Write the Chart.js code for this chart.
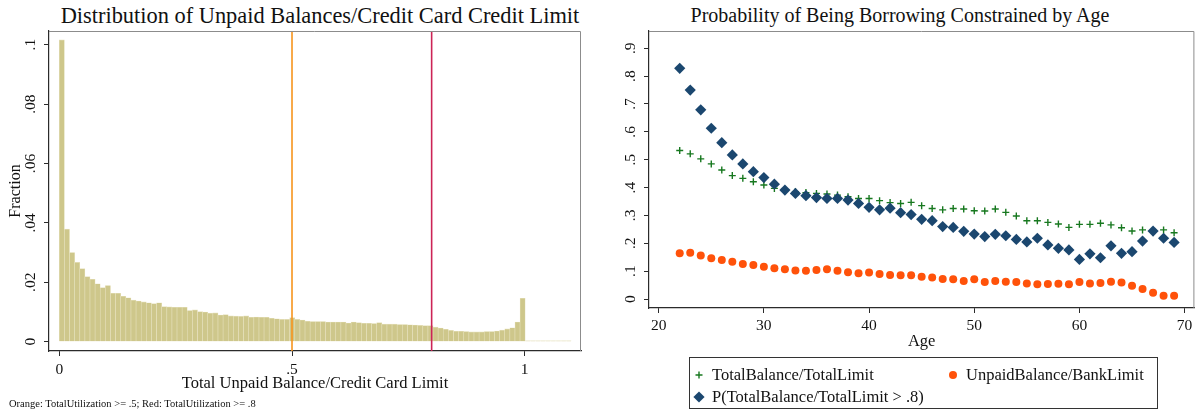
<!DOCTYPE html>
<html>
<head>
<meta charset="utf-8">
<script src="https://cdn.jsdelivr.net/npm/chart.js@4.4.1/dist/chart.umd.min.js"></script>
<style>
  body { margin: 0; background: #fff; width: 1200px; height: 415px; overflow: hidden; position: relative;
         font-family: "Liberation Serif", serif; color: #111; }
  canvas { position: absolute; top: 0; }
  #histCanvas { left: 0; }
  #ageCanvas { left: 600px; }
  .title { position: absolute; top: 4px; font-size: 20px; text-align: center; white-space: nowrap; }
  .note { position: absolute; left: 9px; top: 398px; font-size: 10.5px; white-space: nowrap; }
  #legend { position: absolute; left: 689px; top: 357px; width: 467px; height: 50px; border: 1px solid #333; font-size: 16.5px; }
  .item { position: absolute; display: flex; align-items: center; white-space: nowrap; height: 20px; }
  .item canvas { position: static; margin-right: 6px; }
</style>
</head>
<body>
<div class="title" style="left:0;width:640px;font-size:22.4px;top:3px">Distribution of Unpaid Balances/Credit Card Credit Limit</div>
<div class="title" style="left:600px;width:600px">Probability of Being Borrowing Constrained by Age</div>
<canvas id="histCanvas" width="600" height="415"></canvas>
<canvas id="ageCanvas" width="600" height="415"></canvas>
<div class="note">Orange: TotalUtilization &gt;= .5; Red: TotalUtilization &gt;= .8</div>
<div id="legend"></div>

<script>
// ---- data: histogram of utilization (100 bins of width .011 starting at 0)
var BIN_WIDTH = 0.011;
var fractions = [
  0.1016, 0.0379, 0.0300, 0.0267, 0.0246, 0.0219, 0.0210, 0.0195, 0.0182, 0.0189,
  0.0163, 0.0163, 0.0153, 0.0148, 0.0140, 0.0137, 0.0134, 0.0131, 0.0128, 0.0131,
  0.0118, 0.0117, 0.0116, 0.0116, 0.0116, 0.0105, 0.0107, 0.0101, 0.0100, 0.0096,
  0.0097, 0.0090, 0.0091, 0.0087, 0.0086, 0.0085, 0.0087, 0.0082, 0.0083, 0.0082,
  0.0082, 0.0079, 0.0077, 0.0075, 0.0075, 0.0081, 0.0075, 0.0073, 0.0069, 0.0068,
  0.0068, 0.0068, 0.0066, 0.0066, 0.0066, 0.0066, 0.0063, 0.0066, 0.0064, 0.0062,
  0.0062, 0.0061, 0.0064, 0.0059, 0.0059, 0.0059, 0.0058, 0.0058, 0.0057, 0.0056,
  0.0055, 0.0054, 0.0054, 0.0049, 0.0046, 0.0042, 0.0038, 0.0035, 0.0035, 0.0034,
  0.0033, 0.0033, 0.0033, 0.0034, 0.0034, 0.0036, 0.0039, 0.0043, 0.0047, 0.0066,
  0.0146, 0.0003, 0.0003, 0.0003, 0.0003, 0.0003, 0.0003, 0.0003, 0.0003, 0.0003
];
var cutoffs = [0.5, 0.8];
var histXTicks = [0, 0.5, 1];
var histYTicks = [0, 0.02, 0.04, 0.06, 0.08, 0.1];

// ---- data: by age
var ages = [22, 23, 24, 25, 26, 27, 28, 29, 30, 31, 32, 33, 34, 35, 36, 37, 38, 39, 40, 41, 42, 43, 44, 45,
            46, 47, 48, 49, 50, 51, 52, 53, 54, 55, 56, 57, 58, 59, 60, 61, 62, 63, 64, 65, 66, 67, 68, 69];
var totalUtil = [0.533, 0.521, 0.503, 0.485, 0.463, 0.443, 0.433, 0.421, 0.409, 0.397, 0.390, 0.385,
                 0.382, 0.379, 0.377, 0.373, 0.367, 0.361, 0.361, 0.353, 0.346, 0.343, 0.347, 0.335,
                 0.325, 0.320, 0.325, 0.323, 0.317, 0.316, 0.323, 0.311, 0.298, 0.281, 0.281, 0.275,
                 0.269, 0.257, 0.268, 0.268, 0.272, 0.266, 0.256, 0.244, 0.248, 0.242, 0.248, 0.238];
var bankUtil = [0.164, 0.166, 0.156, 0.146, 0.140, 0.134, 0.126, 0.122, 0.116, 0.110, 0.107, 0.102,
                0.101, 0.104, 0.107, 0.101, 0.096, 0.092, 0.095, 0.090, 0.086, 0.085, 0.085, 0.080,
                0.077, 0.072, 0.071, 0.065, 0.071, 0.061, 0.065, 0.062, 0.061, 0.056, 0.053, 0.054,
                0.055, 0.053, 0.061, 0.056, 0.057, 0.062, 0.059, 0.048, 0.036, 0.022, 0.012, 0.012];
var probConstrained = [0.828, 0.750, 0.679, 0.613, 0.561, 0.517, 0.485, 0.457, 0.436, 0.412, 0.391, 0.379,
                       0.371, 0.364, 0.361, 0.361, 0.355, 0.343, 0.329, 0.320, 0.326, 0.310, 0.303, 0.286,
                       0.281, 0.260, 0.257, 0.243, 0.233, 0.224, 0.232, 0.227, 0.214, 0.205, 0.218, 0.194,
                       0.182, 0.176, 0.142, 0.162, 0.148, 0.191, 0.164, 0.170, 0.208, 0.244, 0.218, 0.203];
var ageXTicks = [20, 30, 40, 50, 60, 70];
var ageYTicks = [0, 0.1, 0.2, 0.3, 0.4, 0.5, 0.6, 0.7, 0.8, 0.9];
var seriesLabels = ["TotalBalance/TotalLimit", "UnpaidBalance/BankLimit", "P(TotalBalance/TotalLimit > .8)"];

// ---- styling
var AXIS = "#2b2b2b";
var CUT_COLORS = ["#f7941d", "#cc2456"];
Chart.defaults.font.family = "'Liberation Serif', serif";
Chart.defaults.font.size = 15.5;
Chart.defaults.color = "#111";

function stataNum(v) {
  var s = String(+v.toFixed(3));
  return s.replace(/^0\./, ".");
}

// grey top/right edge of the plot region
var frameLines = {
  id: "frameLines",
  afterDraw: function (chart) {
    var a = chart.chartArea, ctx = chart.ctx;
    ctx.save();
    ctx.strokeStyle = "#8c8c8c";
    ctx.lineWidth = 1;
    ctx.beginPath();
    ctx.moveTo(a.left, a.top + 0.5);
    ctx.lineTo(a.right - 0.5, a.top + 0.5);
    ctx.lineTo(a.right - 0.5, a.bottom);
    ctx.stroke();
    ctx.restore();
  }
};

function axis(opts) {
  return Object.assign({
    type: "linear",
    offset: false,
    grid: { display: true, offset: false, drawOnChartArea: false, drawTicks: true, tickLength: 5, tickColor: AXIS, tickWidth: 1 },
    border: { display: true, color: AXIS, width: 1.2 }
  }, opts);
}

// ---- left: histogram
var histY = { min: -0.00313, max: 0.1046 };
var histDatasets = [{
  type: "bar",
  order: 2,
  data: fractions.map(function (f, i) { return { x: (i + 0.5) * BIN_WIDTH, y: f }; }),
  backgroundColor: "#cec78b",
  borderColor: "#e6e1bd",
  borderWidth: { left: 0.6, right: 0.6, top: 0.6, bottom: 0 },
  borderSkipped: false,
  barPercentage: 1,
  categoryPercentage: 1
}];
cutoffs.forEach(function (c, i) {
  histDatasets.push({
    type: "line",
    order: 0,
    data: [{ x: c, y: histY.min }, { x: c, y: histY.max }],
    borderColor: CUT_COLORS[i],
    borderWidth: 1.6,
    pointRadius: 0
  });
});

new Chart(document.getElementById("histCanvas"), {
  type: "bar",
  data: { datasets: histDatasets },
  options: {
    responsive: false, animation: false, devicePixelRatio: 1, events: [],
    layout: { padding: { top: 31, right: 19, bottom: 19, left: 0 } },
    plugins: { legend: { display: false }, tooltip: { enabled: false } },
    scales: {
      x: axis({
        min: -0.0221, max: 1.1209,
        afterBuildTicks: function (s) { s.ticks = histXTicks.map(function (v) { return { value: v }; }); },
        afterFit: function (s) { s.height = 45; },
        ticks: { padding: 5, maxRotation: 0, autoSkip: false, callback: stataNum },
        title: { display: true, text: "Total Unpaid Balance/Credit Card Limit", font: { size: 16.5 }, padding: { top: 0, bottom: 2 } }
      }),
      y: axis({
        min: histY.min, max: histY.max,
        afterBuildTicks: function (s) { s.ticks = histYTicks.map(function (v) { return { value: v }; }); },
        afterFit: function (s) { s.width = 49; },
        ticks: { padding: 3, minRotation: 90, maxRotation: 90, crossAlign: "center", autoSkip: false, callback: stataNum },
        title: { display: true, text: "Fraction", font: { size: 16 }, padding: { top: 6, bottom: 0 } }
      })
    }
  },
  plugins: [frameLines]
});

// ---- right: scatter by age
function points(values) { return ages.map(function (a, i) { return { x: a, y: values[i] }; }); }

var ageSeries = [
  { label: seriesLabels[0], data: points(totalUtil), pointStyle: "cross", pointRadius: 3.5,
    borderColor: "#17781f", backgroundColor: "#17781f", pointBorderWidth: 1.4, order: 2 },
  { label: seriesLabels[1], data: points(bankUtil), pointStyle: "circle", pointRadius: 4,
    borderColor: "#ff520a", backgroundColor: "#ff520a", pointBorderWidth: 0, order: 1 },
  { label: seriesLabels[2], data: points(probConstrained), pointStyle: "rectRot", pointRadius: 5.6,
    borderColor: "#1b476f", backgroundColor: "#1b476f", pointBorderWidth: 0, order: 0 }
];

var ageChart = new Chart(document.getElementById("ageCanvas"), {
  type: "scatter",
  data: { datasets: ageSeries },
  options: {
    responsive: false, animation: false, devicePixelRatio: 1, events: [],
    layout: { padding: { top: 31, right: 5, bottom: 57, left: 0 } },
    plugins: { legend: { display: false }, tooltip: { enabled: false } },
    scales: {
      x: axis({
        min: 19.08, max: 70.93,
        afterBuildTicks: function (s) { s.ticks = ageXTicks.map(function (v) { return { value: v }; }); },
        afterFit: function (s) { s.height = 50; },
        ticks: { padding: 4, maxRotation: 0, autoSkip: false, callback: stataNum },
        title: { display: true, text: "Age", font: { size: 16.5 }, padding: { top: 0, bottom: 6 } }
      }),
      y: axis({
        min: -0.0323, max: 0.962,
        afterBuildTicks: function (s) { s.ticks = ageYTicks.map(function (v) { return { value: v }; }); },
        afterFit: function (s) { s.width = 49; },
        ticks: { padding: 7, minRotation: 90, maxRotation: 90, crossAlign: "center", autoSkip: false, callback: stataNum }
      })
    }
  },
  plugins: [frameLines]
});

// ---- legend box (two columns, Stata order)
var legendSlots = [{ left: 2, top: 7 }, { left: 256, top: 7 }, { left: 2, top: 29 }];
var legendEl = document.getElementById("legend");
ageChart.data.datasets.forEach(function (ds, i) {
  var item = document.createElement("div");
  item.className = "item";
  item.style.left = legendSlots[i].left + "px";
  item.style.top = legendSlots[i].top + "px";
  var mk = document.createElement("canvas");
  mk.width = 14; mk.height = 14;
  var ctx = mk.getContext("2d");
  ctx.fillStyle = ds.backgroundColor;
  ctx.strokeStyle = ds.borderColor;
  ctx.lineWidth = ds.pointBorderWidth || 1.4;
  Chart.helpers.drawPoint(ctx, { pointStyle: ds.pointStyle, radius: ds.pointRadius, borderWidth: ds.pointBorderWidth }, 7, 7);
  item.appendChild(mk);
  var tx = document.createElement("span");
  tx.textContent = ds.label;
  item.appendChild(tx);
  legendEl.appendChild(item);
});
</script>
</body>
</html>
